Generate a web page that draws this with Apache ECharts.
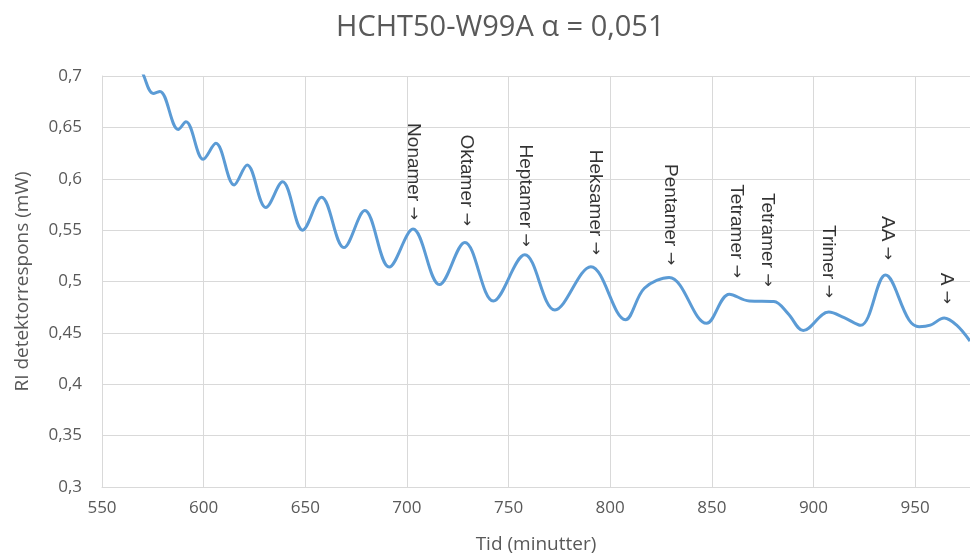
<!DOCTYPE html>
<html>
<head>
<meta charset="utf-8">
<script src="https://cdn.jsdelivr.net/npm/echarts@6/dist/echarts.min.js"></script>
<style>
html,body{margin:0;padding:0;background:#fff;}
#chart{width:970px;height:559px;}
</style>
</head>
<body>
<div id="chart"></div>
<script>
// Curve (peaks, troughs and shape points): time (minutes) and RI response (mW)
var timeVals = [567.0, 570.6, 575.2, 578.5, 587.5, 591.3, 599.8, 606.0, 615.0, 621.4,
  630.6, 638.8, 648.7, 658.0, 669.0, 679.3, 691.3, 703.0, 716.0, 728.5,
  742.5, 758.0, 772.8, 790.5, 807.5, 816.8, 829.0, 847.4, 858.6, 868.4,
  880.5, 887.4, 895.0, 907.5, 915.1, 923.2, 935.4, 947.0, 952.0, 957.5,
  964.3, 970.3, 977.0];
var respVals = [0.722, 0.700, 0.683, 0.685, 0.648, 0.6555, 0.619, 0.6345, 0.594, 0.6134,
  0.572, 0.597, 0.550, 0.582, 0.533, 0.569, 0.514, 0.551, 0.497, 0.538,
  0.481, 0.526, 0.4723, 0.5144, 0.4628, 0.4934, 0.504, 0.4593, 0.4877, 0.481,
  0.4805, 0.469, 0.4523, 0.4703, 0.4648, 0.4573, 0.5063, 0.4625, 0.456, 0.4575,
  0.4645, 0.4577, 0.442];

// Peak annotations (text and the point where the arrow ends)
var labelNames = ['Nonamer', 'Oktamer', 'Heptamer', 'Heksamer', 'Pentamer',
  'Tetramer', 'Tetramer', 'Trimer', 'AA', 'A'];
var labelT = [702.9, 729.3, 758.0, 792.4, 829.3, 862.0, 877.1, 907.1, 936.1, 965.3];
var labelV = [0.5599, 0.554, 0.5339, 0.5258, 0.516, 0.5034, 0.495, 0.484, 0.5209, 0.4781];

var xTicks = [550, 600, 650, 700, 750, 800, 850, 900, 950];
var yTicks = [0.3, 0.35, 0.4, 0.45, 0.5, 0.55, 0.6, 0.65, 0.7];

var curve = timeVals.map(function (t, i) { return [t, respVals[i]]; });
var labelData = labelT.map(function (t, i) { return { value: [t, labelV[i]], name: labelNames[i] }; });

var chart = echarts.init(document.getElementById('chart'), null, { renderer: 'canvas' });
var txt = '#595959';
var fontFam = '"Open Sans", "Noto Sans", sans-serif';
chart.setOption({
  animation: false,
  backgroundColor: '#ffffff',
  title: {
    text: 'HCHT50-W99A \u03b1 = 0,051',
    left: 331,
    top: 8,
    textStyle: { color: txt, fontSize: 29, fontWeight: 'normal', fontFamily: fontFam }
  },
  grid: { left: 102, right: 0, top: 76, bottom: 72, containLabel: false },
  xAxis: {
    type: 'value',
    min: xTicks[0],
    max: 977,
    interval: 50,
    name: 'Tid (minutter)',
    nameLocation: 'middle',
    nameGap: 48,
    nameTextStyle: { color: txt, fontSize: 19, fontFamily: fontFam },
    axisLine: { show: true, lineStyle: { color: '#d9d9d9', width: 1 } },
    axisTick: { show: false },
    axisLabel: {
      color: txt, fontSize: 17, fontFamily: fontFam, margin: 13,
      showMaxLabel: false,
      formatter: function (v) { return xTicks.indexOf(v) >= 0 ? String(v) : ''; }
    },
    splitLine: { show: true, lineStyle: { color: '#d9d9d9', width: 1 } }
  },
  yAxis: {
    type: 'value',
    min: yTicks[0],
    max: yTicks[yTicks.length - 1],
    interval: 0.05,
    name: 'RI detektorrespons (mW)',
    nameLocation: 'middle',
    nameGap: 70,
    nameTextStyle: { color: txt, fontSize: 19, fontFamily: fontFam },
    axisLine: { show: true, lineStyle: { color: '#d9d9d9', width: 1 } },
    axisTick: { show: false },
    axisLabel: {
      color: txt, fontSize: 17, fontFamily: fontFam, margin: 20,
      formatter: function (v) { return String(Math.round(v * 100) / 100).replace('.', ','); }
    },
    splitLine: { show: true, lineStyle: { color: '#d9d9d9', width: 1 } }
  },
  series: [
    {
      type: 'line',
      data: curve,
      smooth: 0.36,
      showSymbol: false,
      clip: true,
      lineStyle: { color: '#5b9bd5', width: 3 },
      itemStyle: { color: '#5b9bd5' }
    },
    {
      type: 'scatter',
      data: labelData,
      symbolSize: 0,
      silent: true,
      label: {
        show: true,
        formatter: function (p) { return '{t|' + p.name + '} {a|\u2192}'; },
        position: 'inside',
        rotate: -90,
        align: 'right',
        verticalAlign: 'middle',
        color: '#000000',
        fontSize: 19,
        fontFamily: '"Liberation Sans", Arial, sans-serif',
        rich: {
          t: { color: '#000000', fontSize: 19, fontFamily: '"Liberation Sans", Arial, sans-serif' },
          a: { color: '#000000', fontSize: 16, fontFamily: '"DejaVu Sans", sans-serif' }
        }
      }
    }
  ]
});
</script>
</body>
</html>
